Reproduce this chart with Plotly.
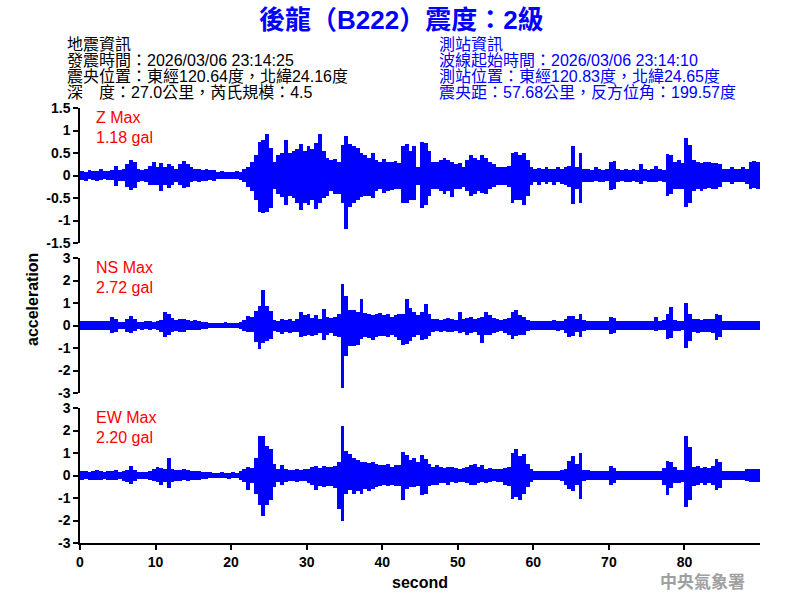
import plotly.graph_objects as go
from plotly.subplots import make_subplots

# ---- data: per 0.5 s bin, upper / lower peak acceleration (gal) ----
bin_width = 0.5
bin_start = [i * bin_width for i in range(180)]  # seconds

z_up = [0.10,0.08,0.12,0.10,0.09,0.15,0.10,0.10,0.12,0.22,
        0.12,0.15,0.25,0.35,0.30,0.15,0.12,0.15,0.22,0.29,
        0.20,0.28,0.18,0.26,0.22,0.15,0.25,0.32,0.25,0.20,
        0.15,0.14,0.12,0.15,0.13,0.12,0.08,0.10,0.08,0.07,
        0.08,0.10,0.08,0.15,0.20,0.30,0.45,0.75,0.78,0.92,
        0.62,0.30,0.45,0.50,0.79,0.50,0.55,0.60,0.70,0.55,
        0.65,0.60,0.73,0.92,0.55,0.40,0.35,0.37,0.30,0.68,
        0.88,0.70,0.65,0.62,0.50,0.45,0.40,0.50,0.35,0.30,
        0.37,0.30,0.30,0.32,0.28,0.65,0.70,0.55,0.65,0.20,
        0.75,0.72,0.55,0.30,0.30,0.35,0.40,0.35,0.30,0.25,
        0.28,0.20,0.35,0.45,0.40,0.35,0.45,0.40,0.30,0.25,
        0.20,0.20,0.20,0.22,0.50,0.52,0.45,0.50,0.35,0.20,
        0.15,0.17,0.15,0.20,0.15,0.15,0.18,0.15,0.20,0.22,
        0.66,0.20,0.50,0.15,0.15,0.12,0.18,0.15,0.12,0.15,
        0.30,0.33,0.15,0.12,0.15,0.12,0.15,0.13,0.25,0.15,
        0.12,0.14,0.22,0.15,0.12,0.48,0.45,0.30,0.35,0.28,
        0.83,0.68,0.35,0.30,0.28,0.30,0.30,0.28,0.28,0.25,
        0.15,0.15,0.20,0.15,0.15,0.18,0.15,0.30,0.32,0.30]
z_lo = [-0.10,-0.12,-0.08,-0.10,-0.12,-0.10,-0.08,-0.10,-0.10,-0.24,
        -0.12,-0.12,-0.25,-0.33,-0.28,-0.15,-0.12,-0.15,-0.20,-0.22,
        -0.20,-0.35,-0.20,-0.27,-0.20,-0.15,-0.20,-0.27,-0.25,-0.15,
        -0.12,-0.14,-0.12,-0.12,-0.10,-0.12,-0.08,-0.08,-0.07,-0.08,
        -0.08,-0.08,-0.10,-0.15,-0.25,-0.35,-0.55,-0.80,-0.83,-0.80,
        -0.73,-0.30,-0.40,-0.48,-0.66,-0.45,-0.50,-0.60,-0.77,-0.60,
        -0.65,-0.55,-0.75,-0.60,-0.50,-0.45,-0.35,-0.40,-0.40,-0.60,
        -1.18,-0.70,-0.60,-0.55,-0.48,-0.45,-0.45,-0.50,-0.35,-0.30,
        -0.38,-0.35,-0.32,-0.30,-0.30,-0.60,-0.62,-0.55,-0.55,-0.20,
        -0.73,-0.65,-0.45,-0.30,-0.30,-0.35,-0.40,-0.35,-0.48,-0.30,
        -0.30,-0.25,-0.35,-0.45,-0.40,-0.35,-0.38,-0.40,-0.30,-0.25,
        -0.20,-0.20,-0.20,-0.25,-0.60,-0.55,-0.55,-0.65,-0.45,-0.20,
        -0.15,-0.20,-0.15,-0.18,-0.15,-0.20,-0.15,-0.18,-0.20,-0.25,
        -0.63,-0.30,-0.60,-0.15,-0.15,-0.15,-0.12,-0.15,-0.15,-0.12,
        -0.32,-0.30,-0.15,-0.12,-0.15,-0.15,-0.12,-0.15,-0.18,-0.12,
        -0.15,-0.15,-0.15,-0.12,-0.15,-0.45,-0.42,-0.30,-0.30,-0.30,
        -0.70,-0.60,-0.35,-0.30,-0.35,-0.30,-0.28,-0.30,-0.30,-0.25,
        -0.15,-0.15,-0.18,-0.15,-0.15,-0.15,-0.18,-0.30,-0.28,-0.30]

ns_up = [0.20,0.22,0.18,0.20,0.20,0.22,0.18,0.20,0.37,0.30,
         0.15,0.15,0.30,0.44,0.30,0.15,0.15,0.20,0.18,0.15,
         0.20,0.25,0.62,0.50,0.35,0.25,0.30,0.28,0.25,0.22,
         0.25,0.20,0.15,0.15,0.12,0.12,0.12,0.12,0.15,0.12,
         0.10,0.12,0.15,0.25,0.44,0.40,0.66,0.88,1.57,0.88,
         0.66,0.25,0.22,0.30,0.25,0.30,0.22,0.28,0.59,0.45,
         0.50,0.35,0.45,0.30,0.74,0.40,0.35,0.40,0.50,1.84,
         1.32,0.70,0.70,0.60,1.20,0.55,0.50,0.45,0.50,0.55,
         0.45,0.50,0.40,0.45,0.50,0.50,1.18,0.80,0.60,0.45,
         0.60,0.96,0.50,0.30,0.30,0.25,0.30,0.35,0.30,0.25,
         0.62,0.30,0.35,0.40,0.30,0.35,0.40,0.59,0.45,0.35,
         0.30,0.25,0.30,0.35,0.60,0.69,0.45,0.40,0.25,0.22,
         0.20,0.22,0.20,0.22,0.20,0.25,0.22,0.20,0.30,0.44,
         0.44,0.30,0.49,0.25,0.20,0.22,0.20,0.20,0.22,0.20,
         0.37,0.35,0.20,0.20,0.18,0.20,0.18,0.20,0.20,0.18,
         0.22,0.20,0.40,0.20,0.25,0.50,0.84,0.25,0.22,0.22,
         0.98,0.50,0.30,0.30,0.25,0.30,0.28,0.30,0.51,0.45,
         0.22,0.20,0.20,0.22,0.22,0.20,0.22,0.22,0.20,0.22]
ns_lo = [-0.20,-0.22,-0.20,-0.18,-0.20,-0.22,-0.20,-0.20,-0.34,-0.30,
         -0.15,-0.15,-0.30,-0.34,-0.25,-0.15,-0.18,-0.15,-0.20,-0.15,
         -0.18,-0.30,-0.49,-0.40,-0.30,-0.25,-0.28,-0.30,-0.22,-0.22,
         -0.20,-0.20,-0.15,-0.15,-0.12,-0.12,-0.12,-0.12,-0.12,-0.10,
         -0.12,-0.12,-0.15,-0.25,-0.30,-0.30,-0.74,-1.03,-0.78,-0.70,
         -0.59,-0.25,-0.30,-0.37,-0.30,-0.35,-0.30,-0.30,-0.49,-0.45,
         -0.40,-0.45,-0.40,-0.35,-0.66,-0.40,-0.35,-0.45,-0.50,-2.76,
         -1.37,-0.90,-0.90,-0.85,-0.60,-0.50,-0.55,-0.66,-0.50,-0.45,
         -0.45,-0.50,-0.40,-0.50,-0.66,-0.85,-0.80,-0.70,-0.50,-0.40,
         -0.66,-0.60,-0.45,-0.30,-0.25,-0.30,-0.25,-0.30,-0.30,-0.25,
         -0.35,-0.30,-0.40,-0.35,-0.30,-0.40,-0.76,-0.40,-0.40,-0.35,
         -0.30,-0.25,-0.35,-0.40,-0.59,-0.45,-0.44,-0.40,-0.25,-0.22,
         -0.22,-0.20,-0.22,-0.20,-0.22,-0.20,-0.25,-0.22,-0.35,-0.51,
         -0.45,-0.30,-0.51,-0.25,-0.20,-0.22,-0.20,-0.20,-0.20,-0.22,
         -0.37,-0.35,-0.20,-0.18,-0.20,-0.20,-0.18,-0.20,-0.22,-0.20,
         -0.20,-0.20,-0.25,-0.20,-0.22,-0.59,-0.55,-0.25,-0.25,-0.22,
         -1.00,-0.70,-0.30,-0.35,-0.30,-0.30,-0.30,-0.35,-0.63,-0.50,
         -0.22,-0.20,-0.22,-0.20,-0.22,-0.20,-0.22,-0.22,-0.22,-0.20]

ew_up = [0.18,0.20,0.15,0.20,0.25,0.18,0.15,0.20,0.20,0.26,
         0.15,0.20,0.25,0.44,0.25,0.15,0.15,0.15,0.20,0.30,
         0.37,0.35,0.30,0.76,0.30,0.25,0.25,0.28,0.25,0.22,
         0.20,0.22,0.15,0.15,0.15,0.12,0.12,0.15,0.12,0.12,
         0.15,0.12,0.20,0.30,0.37,0.35,0.80,1.76,1.74,1.30,
         1.18,0.50,0.30,0.47,0.30,0.25,0.25,0.30,0.25,0.30,
         0.30,0.40,0.44,0.35,0.44,0.40,0.40,0.44,0.60,2.20,
         1.10,0.96,0.80,0.70,0.60,0.60,0.55,0.60,0.50,0.45,
         0.45,0.50,0.40,0.45,0.45,1.06,0.90,0.70,0.80,0.60,
         0.91,0.75,0.50,0.40,0.45,0.40,0.35,0.40,0.40,0.35,
         0.30,0.35,0.40,0.45,0.50,0.40,0.45,0.30,0.35,0.30,
         0.30,0.30,0.35,0.40,0.98,1.18,0.85,0.96,0.50,0.30,
         0.22,0.20,0.22,0.20,0.22,0.20,0.22,0.25,0.30,0.66,
         0.88,0.50,0.98,0.25,0.25,0.22,0.20,0.22,0.20,0.20,
         0.44,0.35,0.20,0.18,0.20,0.20,0.22,0.20,0.20,0.20,
         0.22,0.20,0.20,0.22,0.35,0.66,0.60,0.40,0.25,0.25,
         1.76,1.25,0.40,0.44,0.35,0.40,0.35,0.44,0.74,0.60,
         0.20,0.20,0.18,0.20,0.20,0.22,0.30,0.30,0.30,0.28]
ew_lo = [-0.20,-0.15,-0.20,-0.18,-0.20,-0.20,-0.15,-0.20,-0.20,-0.22,
         -0.15,-0.25,-0.30,-0.37,-0.25,-0.15,-0.15,-0.15,-0.20,-0.25,
         -0.30,-0.40,-0.30,-0.56,-0.30,-0.25,-0.25,-0.22,-0.25,-0.20,
         -0.20,-0.20,-0.15,-0.15,-0.12,-0.12,-0.12,-0.12,-0.12,-0.15,
         -0.12,-0.12,-0.20,-0.30,-0.66,-0.34,-0.80,-1.30,-1.80,-1.30,
         -1.10,-0.50,-0.30,-0.44,-0.30,-0.25,-0.25,-0.30,-0.25,-0.25,
         -0.35,-0.40,-0.63,-0.45,-0.50,-0.45,-0.45,-0.55,-1.47,-2.00,
         -0.80,-0.66,-0.80,-0.70,-0.80,-0.60,-0.70,-0.60,-0.50,-0.45,
         -0.40,-0.45,-0.40,-0.45,-0.45,-1.10,-0.60,-0.50,-0.50,-0.45,
         -0.88,-0.80,-0.45,-0.40,-0.40,-0.35,-0.35,-0.40,-0.30,-0.35,
         -0.30,-0.30,-0.35,-0.40,-0.40,-0.35,-0.30,-0.35,-0.30,-0.25,
         -0.30,-0.30,-0.40,-0.45,-1.03,-0.95,-1.10,-0.80,-0.50,-0.30,
         -0.22,-0.20,-0.22,-0.20,-0.20,-0.22,-0.20,-0.25,-0.40,-0.60,
         -0.70,-0.40,-1.03,-0.25,-0.22,-0.20,-0.22,-0.20,-0.22,-0.20,
         -0.40,-0.35,-0.20,-0.20,-0.20,-0.22,-0.20,-0.20,-0.20,-0.22,
         -0.20,-0.20,-0.22,-0.20,-0.40,-0.85,-0.55,-0.35,-0.35,-0.30,
         -1.40,-1.10,-0.45,-0.40,-0.35,-0.40,-0.35,-0.40,-0.66,-0.55,
         -0.20,-0.20,-0.20,-0.22,-0.20,-0.20,-0.25,-0.30,-0.30,-0.28]

channel_names = ["Z", "NS", "EW"]
channel_max = ["1.18 gal", "2.72 gal", "2.20 gal"]

z_ticks = [-1.5, -1, -0.5, 0, 0.5, 1, 1.5]
z_ticktext = ["-1.5", "-1", "-0.5", "0", "0.5", "1", "1.5"]
h_ticks = [-3, -2, -1, 0, 1, 2, 3]
h_ticktext = ["-3", "-2", "-1", "0", "1", "2", "3"]
x_ticks = [0, 10, 20, 30, 40, 50, 60, 70, 80]

title_text = "後龍（B222）震度：2級"
quake_info = ["地震資訊",
              "發震時間：2026/03/06 23:14:25",
              "震央位置：東經120.64度，北緯24.16度",
              "深　度：27.0公里，芮氏規模：4.5"]
station_info = ["測站資訊",
                "波線起始時間：2026/03/06 23:14:10",
                "測站位置：東經120.83度，北緯24.65度",
                "震央距：57.68公里，反方位角：199.57度"]

# ---- figure ----
BLUE = "#0000ff"
FONT = "Liberation Sans, Arial, Noto Sans CJK TC, sans-serif"
CJK = "Liberation Sans, Noto Sans CJK TC, sans-serif"

fig = make_subplots(rows=3, cols=1, shared_xaxes=True, vertical_spacing=15/435)

series = [(z_up, z_lo), (ns_up, ns_lo), (ew_up, ew_lo)]
for r, (up, lo) in enumerate(series, start=1):
    fig.add_trace(go.Bar(x=bin_start, y=[u - l for u, l in zip(up, lo)], base=lo,
                         width=bin_width, offset=0,
                         marker=dict(color=BLUE, line=dict(width=0)),
                         showlegend=False, hoverinfo="skip"), row=r, col=1)

tickfont = dict(family=FONT, size=14, color="black", weight="bold")
for r in range(1, 4):
    is_z = r == 1
    fig.update_yaxes(row=r, col=1,
                     range=[-1.5, 1.5] if is_z else [-3, 3],
                     tickvals=z_ticks if is_z else h_ticks,
                     ticktext=z_ticktext if is_z else h_ticktext,
                     showgrid=False, zeroline=False, showline=True,
                     linecolor="black", linewidth=1.5,
                     ticks="outside", ticklen=5, tickwidth=1.5, tickcolor="black",
                     tickfont=tickfont)
    fig.update_xaxes(row=r, col=1, range=[0, 90], showgrid=False, zeroline=False,
                     showline=(r == 3), linecolor="black", linewidth=1.5,
                     ticks="outside" if r == 3 else "", ticklen=5, tickwidth=1.5,
                     tickcolor="black", tickvals=x_ticks, showticklabels=(r == 3),
                     tickfont=tickfont)

fig.update_xaxes(row=3, col=1, title=dict(text="second", standoff=8,
                 font=dict(family=FONT, size=16, color="black", weight="bold")))

ann = []
# channel labels
yrefs = ["y domain", "y2 domain", "y3 domain"]
xrefs = ["x domain", "x2 domain", "x3 domain"]
for i in range(3):
    ann.append(dict(text=channel_names[i] + " Max", xref=xrefs[i], yref=yrefs[i],
                    x=0.02, y=0.933, xanchor="left", yanchor="middle", showarrow=False,
                    font=dict(family=FONT, size=16, color="#ff0000")))
    ann.append(dict(text=channel_max[i], xref=xrefs[i], yref=yrefs[i],
                    x=0.02, y=0.785, xanchor="left", yanchor="middle", showarrow=False,
                    font=dict(family=FONT, size=16, color="#ff0000")))

def px_x(px):
    return (px - 80) / 680

def px_y(py):
    return (543 - py) / 435

ann.append(dict(text=title_text, xref="paper", yref="paper", x=px_x(401), y=px_y(20),
                xanchor="center", yanchor="middle", showarrow=False,
                font=dict(family=CJK, size=26, color=BLUE, weight="bold")))
line_y = [44, 60, 76, 92]
for i in range(4):
    ann.append(dict(text=quake_info[i], xref="paper", yref="paper", x=px_x(65), y=px_y(line_y[i]),
                    xanchor="left", yanchor="middle", showarrow=False,
                    font=dict(family=CJK, size=16, color="black")))
    ann.append(dict(text=station_info[i], xref="paper", yref="paper", x=px_x(437), y=px_y(line_y[i]),
                    xanchor="left", yanchor="middle", showarrow=False,
                    font=dict(family=CJK, size=16, color=BLUE)))
ann.append(dict(text="acceleration", xref="paper", yref="paper", x=px_x(32), y=px_y(300),
                xanchor="center", yanchor="middle", textangle=-90, showarrow=False,
                font=dict(family=FONT, size=16, color="black", weight="bold")))
ann.append(dict(text="中央氣象署", xref="paper", yref="paper", x=px_x(702), y=px_y(580),
                xanchor="center", yanchor="middle", showarrow=False,
                font=dict(family="Noto Sans CJK TC, sans-serif", size=17, color="#a0a0a0", weight="bold")))

fig.update_layout(width=800, height=600, margin=dict(l=80, r=40, t=108, b=57),
                  paper_bgcolor="white", plot_bgcolor="white", bargap=0,
                  annotations=ann, showlegend=False)

fig.write_html("out.html", config={"displayModeBar": False},
               post_script="document.body.style.margin='0';")
